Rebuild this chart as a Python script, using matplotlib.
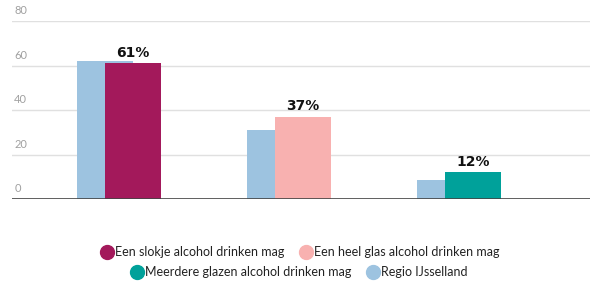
import matplotlib
matplotlib.use("Agg")
import matplotlib.pyplot as plt
from matplotlib.lines import Line2D
from matplotlib.transforms import blended_transform_factory

categories = ["Een slokje alcohol drinken mag", "Een heel glas alcohol drinken mag",
              "Meerdere glazen alcohol drinken mag"]
values = [61, 37, 12]
regio_values = [62, 31, 8.5]
regio_label = "Regio IJsselland"
value_labels = ["61%", "37%", "12%"]
yticks = [0, 20, 40, 60, 80]

colors = ["#a3195b", "#f8b1b0", "#00a19a"]
regio_color = "#9dc3e0"

plt.rcParams['font.family'] = ['Lato', 'DejaVu Sans']

fig = plt.figure(figsize=(5.92, 2.82), dpi=100)
ax = fig.add_axes([12/592, 1 - 199/282, 578/592, 178/282])

w = 0.33
x = list(range(len(categories)))
ax.bar([i - w/2 for i in x], regio_values, width=w, color=regio_color, zorder=2)
ax.bar(x, values, width=w, color=colors, zorder=3)
for i, v, lab in zip(x, values, value_labels):
    ax.text(i, v + 1.6, lab, ha='center', va='bottom', fontsize=10, fontweight='bold',
            family='DejaVu Sans', color='#111111', zorder=4)

ax.set_xlim(-0.71, 2.69)
ax.set_ylim(0, 80)
for s in ax.spines.values():
    s.set_visible(False)
ax.set_xticks([])
ax.set_yticks([])
for t in yticks[1:]:
    ax.axhline(t, color='#e0e0e0', lw=1, zorder=1)
ax.axhline(0, color='#444444', lw=1.2, zorder=5)
tr = blended_transform_factory(ax.transAxes, ax.transData)
for t in yticks:
    ax.text(0.004, t + 2.2, str(t), transform=tr, ha='left', va='bottom', fontsize=8,
            fontweight='normal', color='#a0a0a0')

def handle(c):
    return Line2D([], [], marker='o', linestyle='none', markersize=10,
                  markerfacecolor=c, markeredgecolor=c)

row1 = [handle(colors[0]), handle(colors[1])]
row2 = [handle(colors[2]), handle(regio_color)]
kw = dict(frameon=False, ncol=2, fontsize=9, handletextpad=0.15, columnspacing=1.2,
          handlelength=1.0, borderpad=0, labelcolor='#222222')
fig.legend(row1, categories[:2], loc='center', bbox_to_anchor=(300/592, 1 - 252/282), **kw)
fig.legend(row2, [categories[2], regio_label], loc='center',
           bbox_to_anchor=(299/592, 1 - 272/282), **kw)

fig.savefig("out.png", dpi=100)
